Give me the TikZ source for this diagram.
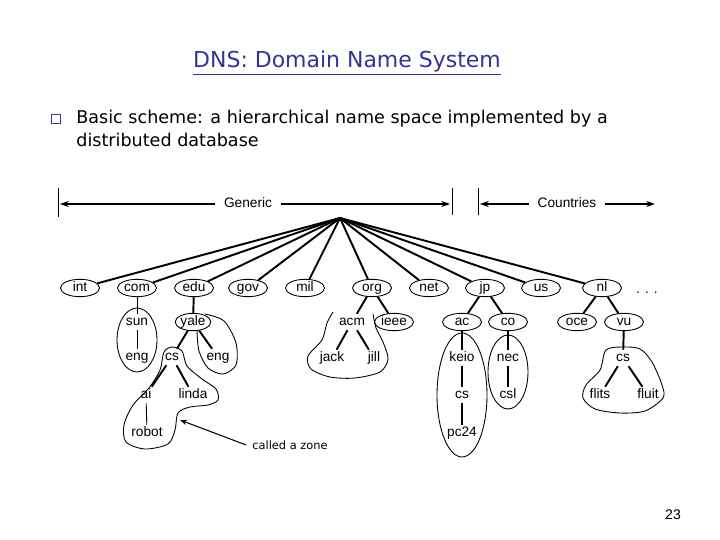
\documentclass[tikz,border=0pt]{standalone}
\usepackage{fontspec}
\setmainfont{Liberation Sans}
\newfontfamily\slidefont{DejaVu Sans}
\usetikzlibrary{shapes.geometric,arrows.meta}

\definecolor{slideblue}{RGB}{51,51,153}
\newcommand{\treefont}{\fontsize{7.8}{9}\selectfont}

\tikzset{
  dom/.style={ellipse, draw, line width=0.5pt, minimum width=0.78cm,
    minimum height=0.33cm, inner sep=0pt, font=\treefont,
    text height=5.6pt, text depth=1.4pt},
  leaf/.style={inner sep=1pt, font=\treefont, text height=5.6pt, text depth=1.4pt},
  branch/.style={line width=1.1pt},
  twig/.style={line width=0.5pt},
  zone/.style={line width=0.5pt},
  span/.style={-{Stealth[length=5pt,width=3.5pt]}, line width=0.6pt},
}

\begin{document}
\begin{tikzpicture}[x=0.02cm, y=-0.02cm]
        \useasboundingbox (0,0) rectangle (720,540);

        % title and bullet
        \node[font=\slidefont\fontsize{12.5}{15}\selectfont, text=slideblue] (title) at (347,63) {\underline{DNS: Domain Name System}};
        \node[draw=slideblue, line width=0.9pt, minimum size=0.18cm, inner sep=0pt] (bullet) at (56,119) {};
        \node[anchor=base west, inner sep=0pt, font=\slidefont\fontsize{10}{12}\selectfont] (linea) at (76,124) {Basic scheme: a hierarchical name space implemented by a};
        \node[anchor=base west, inner sep=0pt, font=\slidefont\fontsize{10}{12}\selectfont] (lineb) at (76,147) {distributed database};

        % generic / countries
        \draw[twig] (58,188) -- (58,217);
        \draw[twig] (452,188) -- (452,215);
        \draw[twig] (478,188) -- (478,215);
        \node[leaf, inner sep=5pt] (generic) at (248,204) {Generic};
        \node[leaf, inner sep=5pt] (countries) at (567,204) {Countries};
        \coordinate (gl) at (60,204);
        \coordinate (gr) at (450,204);
        \coordinate (cl) at (480,204);
        \coordinate (cr) at (655,204);
        \draw[span] (generic) -- (gl);
        \draw[span] (generic) -- (gr);
        \draw[span] (countries) -- (cl);
        \draw[span] (countries) -- (cr);

        % top level domains
        \coordinate (root) at (340,218);
        \node[dom] (int) at (80,288) {int};
        \node[dom] (com) at (137,288) {com};
        \node[dom] (edu) at (194,288) {edu};
        \node[dom] (gov) at (248,288) {gov};
        \node[dom] (mil) at (305,288) {mil};
        \node[dom] (org) at (372,288) {org};
        \node[dom] (net) at (429,288) {net};
        \node[dom] (jp) at (485,288) {jp};
        \node[dom] (us) at (541,288) {us};
        \node[dom] (nl) at (602,288) {nl};
        \node[leaf] (more) at (647,290) {. . .};
        \foreach \tld in {int,com,edu,gov,mil,org,net,jp,us,nl}
            \draw[branch] (root) -- (\tld);

        % second level
        \node[leaf] (sun) at (137,322) {sun};
        \node[dom, minimum width=0.66cm] (yale) at (193,322) {yale};
        \node[leaf] (acm) at (352,322) {acm};
        \node[dom] (ieee) at (394,322) {ieee};
        \node[dom] (ac) at (462,322) {ac};
        \node[dom] (co) at (508,322) {co};
        \node[dom] (oce) at (577,322) {oce};
        \node[dom] (vu) at (624,322) {vu};

        % third level
        \node[leaf] (suneng) at (137,357) {eng};
        \node[leaf] (yalecs) at (172,357) {cs};
        \node[leaf] (yaleeng) at (218,357) {eng};
        \node[leaf] (jack) at (332,358) {jack};
        \node[leaf] (jill) at (374,358) {jill};
        \node[leaf] (keio) at (462,358) {keio};
        \node[leaf] (nec) at (508,358) {nec};
        \node[leaf] (vucs) at (623,358) {cs};

        % fourth and fifth level
        \node[leaf] (ai) at (146,395) {ai};
        \node[leaf] (linda) at (193,395) {linda};
        \node[leaf] (keiocs) at (462,395) {cs};
        \node[leaf] (csl) at (508,395) {csl};
        \node[leaf] (flits) at (600,395) {flits};
        \node[leaf] (fluit) at (648,395) {fluit};
        \node[leaf] (robot) at (147,433) {robot};
        \node[leaf] (pc24) at (462,433) {pc24};

        \draw[twig] (com) -- (sun);
        \draw[twig] (sun) -- (suneng);
        \draw[branch] (edu) -- (yale);
        \draw[branch] (yale) -- (yalecs);
        \draw[branch] (yale) -- (yaleeng);
        \draw[branch] (yalecs) -- (ai);
        \draw[branch] (yalecs) -- (linda);
        \draw[twig] (ai) -- (robot);
        \draw[branch] (org) -- (acm);
        \draw[branch] (org) -- (ieee);
        \draw[branch] (acm) -- (jack);
        \draw[branch] (acm) -- (jill);
        \draw[branch] (jp) -- (ac);
        \draw[branch] (jp) -- (co);
        \draw[branch] (ac) -- (keio);
        \draw[branch] (keio) -- (keiocs);
        \draw[branch] (keiocs) -- (pc24);
        \draw[branch] (co) -- (nec);
        \draw[branch] (nec) -- (csl);
        \draw[branch] (nl) -- (oce);
        \draw[branch] (nl) -- (vu);
        \draw[branch] (vu) -- (vucs);
        \draw[branch] (vucs) -- (flits);
        \draw[branch] (vucs) -- (fluit);

        % zones
        \draw[zone] (137,340) ellipse [x radius=0.4cm, y radius=0.64cm];
        \draw[zone] plot[smooth] coordinates {(205,314) (224,321) (236,343) (236,365) (223,374) (208,368) (199,351) (197,331)};
        \draw[zone] plot[smooth cycle] coordinates {(172,347) (182,351) (187,366) (202,379) (216,389) (218,400) (208,405) (190,407) (178,413) (175,430) (168,444) (145,449) (126,442) (124,425) (133,405) (149,388) (160,370) (164,352)};
        \draw[zone] plot[smooth] coordinates {(333,312) (327,323) (322,340) (308,356) (311,369) (330,377) (355,378) (380,372) (388,359) (383,342) (376,328) (373,314)};
        \draw[zone] (462,395) ellipse [x radius=0.5cm, y radius=1.24cm];
        \draw[zone] (508,372) ellipse [x radius=0.4cm, y radius=0.74cm];
        \draw[zone] plot[smooth cycle] coordinates {(606,350) (623,347) (640,349) (652,362) (662,385) (663,398) (645,411) (620,413) (595,409) (583,398) (586,385) (600,370)};

        % zone label
        \node[font=\slidefont\fontsize{6.5}{8}\selectfont] (zonelabel) at (290,445) {called a zone};
        \coordinate (zonetip) at (180,420);
        \draw[-{Stealth[length=4pt,width=3pt]}, line width=0.6pt] (zonelabel.west) -- (zonetip);

        \node[font=\fontsize{8}{9}\selectfont] (pageno) at (673,515) {23};
    \end{tikzpicture}
\end{document}
